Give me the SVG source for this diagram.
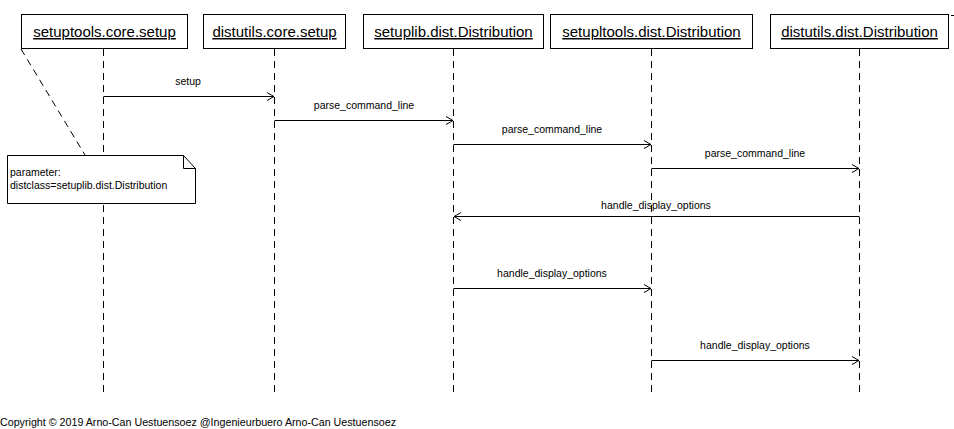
<svg xmlns="http://www.w3.org/2000/svg" width="954" height="429" viewBox="0 0 954 429">
<style>
.box{fill:#fff;stroke:#000;stroke-width:1}
.hdr{font-family:"Liberation Sans",Arial,sans-serif;font-size:15px;text-decoration:underline;fill:#000;text-anchor:middle}
.life{stroke:#000;stroke-width:1;stroke-dasharray:7,5;fill:none}
.msg{stroke:#000;stroke-width:1;fill:none}
.lbl{font-family:"Liberation Sans",Arial,sans-serif;font-size:10.5px;fill:#000;text-anchor:middle}
.note{font-family:"Liberation Sans",Arial,sans-serif;font-size:10.5px;fill:#000}
</style>
<defs>
<marker id="arr" markerWidth="10" markerHeight="10" refX="8" refY="5" orient="auto" markerUnits="userSpaceOnUse">
<path d="M1,1 L8,5 L1,9" fill="none" stroke="#000" stroke-width="1"/>
</marker>
</defs>
<rect width="954" height="429" fill="#fff"/>
<g id="lifelines">
<line class="life" x1="103.5" y1="49" x2="103.5" y2="394"/>
<line class="life" x1="274.5" y1="49" x2="274.5" y2="394"/>
<line class="life" x1="453.5" y1="49" x2="453.5" y2="394"/>
<line class="life" x1="651.5" y1="49" x2="651.5" y2="394"/>
<line class="life" x1="859.5" y1="49" x2="859.5" y2="394"/>
</g>
<g id="n1"><rect class="box" x="21.5" y="14.5" width="166" height="34"/><text class="hdr" x="104.5" y="37">setuptools.core.setup</text></g>
<g id="n2"><rect class="box" x="203.5" y="14.5" width="142" height="34"/><text class="hdr" x="274.5" y="37">distutils.core.setup</text></g>
<g id="n3"><rect class="box" x="363.5" y="14.5" width="180" height="34"/><text class="hdr" x="453.5" y="37">setuplib.dist.Distribution</text></g>
<g id="n4"><rect class="box" x="550.5" y="14.5" width="202" height="34"/><text class="hdr" x="651.5" y="37">setupltools.dist.Distribution</text></g>
<g id="n5"><rect class="box" x="770.5" y="14.5" width="178" height="34"/><text class="hdr" x="859.5" y="37">distutils.dist.Distribution</text></g>
<line x1="951" y1="15.5" x2="954" y2="15.5" stroke="#000"/>
<g id="note">
<line x1="21" y1="49" x2="85" y2="155" class="life"/>
<path class="box" d="M7.5,155.5 H183.5 L195.5,168.5 V203.5 H7.5 Z"/>
<path d="M183.5,155.5 V168.5 H195.5" fill="none" stroke="#000"/>
<text class="note" x="10" y="176">parameter:</text>
<text class="note" x="10" y="189">distclass=setuplib.dist.Distribution</text>
</g>
<g id="connectors">
<line class="msg" x1="103.5" y1="96.5" x2="274" y2="96.5" marker-end="url(#arr)"/>
<text class="lbl" x="188" y="85">setup</text>
<line class="msg" x1="274.5" y1="120.5" x2="453" y2="120.5" marker-end="url(#arr)"/>
<text class="lbl" x="364" y="109">parse_command_line</text>
<line class="msg" x1="453.5" y1="144.5" x2="651" y2="144.5" marker-end="url(#arr)"/>
<text class="lbl" x="552" y="133">parse_command_line</text>
<line class="msg" x1="651.5" y1="168.5" x2="859" y2="168.5" marker-end="url(#arr)"/>
<text class="lbl" x="755" y="157">parse_command_line</text>
<line class="msg" x1="859.5" y1="216.5" x2="454" y2="216.5" marker-end="url(#arr)"/>
<text class="lbl" x="656" y="209">handle_display_options</text>
<line class="msg" x1="453.5" y1="288.5" x2="651" y2="288.5" marker-end="url(#arr)"/>
<text class="lbl" x="552" y="277">handle_display_options</text>
<line class="msg" x1="651.5" y1="360.5" x2="859" y2="360.5" marker-end="url(#arr)"/>
<text class="lbl" x="755" y="349">handle_display_options</text>
</g>
<text class="note" x="0" y="426" style="font-size:10.7px">Copyright © 2019 Arno-Can Uestuensoez @Ingenieurbuero Arno-Can Uestuensoez</text>
</svg>
